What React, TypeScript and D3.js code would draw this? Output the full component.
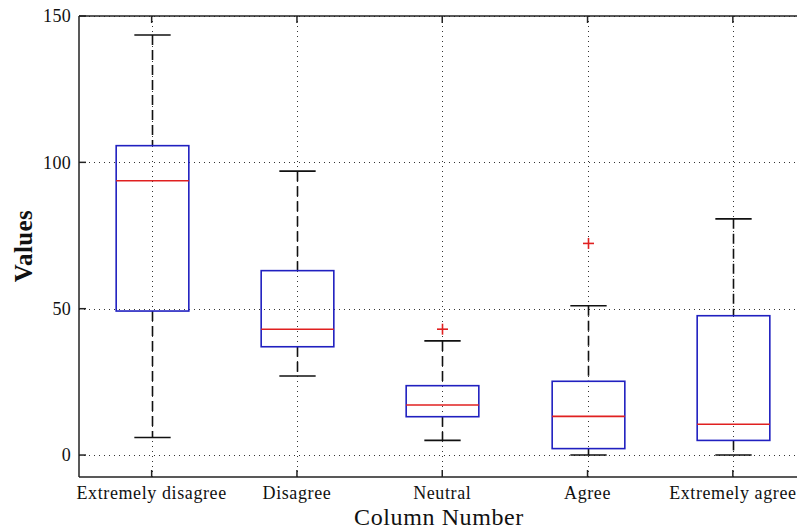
import React from "react";
import * as d3 from "d3";

const categories = ["Extremely disagree", "Disagree", "Neutral", "Agree", "Extremely agree"];
const whiskerLow = [6, 27, 5, 0, 0];
const q1 = [49.2, 37, 13.1, 2.2, 5];
const median = [93.7, 43, 17.1, 13.2, 10.5];
const q3 = [105.7, 63, 23.7, 25.2, 47.6];
const whiskerHigh = [143.5, 97, 39, 51, 80.7];
const outliers: number[][] = [[], [], [43], [72.3], []];
const yTicks = [0, 50, 100, 150];

const W = 797;
const H = 531;
const left = 79;
const top = 16;
const bottom = 477;

export default function App() {
  const x = d3.scaleLinear().domain([0.5, 5.5]).range([left, left + 5 * 145.3]);
  const y = d3.scaleLinear().domain([-7.5, 150]).range([bottom, top]);
  const boxHalf = x(1.25) - x(1);
  const capHalf = x(1.125) - x(1);
  const serif = "'Liberation Serif', 'DejaVu Serif', serif";
  const right = W;

  return (
    <svg
      width={W}
      height={H}
      style={{ position: "absolute", left: 0, top: 0, background: "#fff" }}
      fontFamily={serif}
    >
      <rect x={0} y={0} width={W} height={H} fill="#fff" />
      {/* grid */}
      <g stroke="#333" strokeWidth={1} strokeDasharray="1.2 3.8" shapeRendering="crispEdges">
        {yTicks.map((t) => (
          <line key={"gy" + t} x1={left} x2={right} y1={Math.round(y(t)) + 0.5} y2={Math.round(y(t)) + 0.5} />
        ))}
        {categories.map((c, i) => (
          <line key={"gx" + c} x1={Math.round(x(i + 1)) + 0.5} x2={Math.round(x(i + 1)) + 0.5} y1={top} y2={bottom} />
        ))}
      </g>

      {/* boxes */}
      {categories.map((c, i) => {
        const cx = Math.round(x(i + 1)) + 0.5;
        return (
          <g key={"b" + c}>
            <line x1={cx} x2={cx} y1={y(whiskerHigh[i])} y2={y(q3[i])} stroke="#111" strokeWidth={1.6} strokeDasharray="10 5" />
            <line x1={cx} x2={cx} y1={y(q1[i])} y2={y(whiskerLow[i])} stroke="#111" strokeWidth={1.6} strokeDasharray="10 5" />
            <line x1={cx - capHalf} x2={cx + capHalf} y1={y(whiskerHigh[i])} y2={y(whiskerHigh[i])} stroke="#111" strokeWidth={1.6} />
            <line x1={cx - capHalf} x2={cx + capHalf} y1={y(whiskerLow[i])} y2={y(whiskerLow[i])} stroke="#111" strokeWidth={1.6} />
            <rect
              x={cx - boxHalf}
              y={y(q3[i])}
              width={2 * boxHalf}
              height={y(q1[i]) - y(q3[i])}
              fill="none"
              stroke="#2020c0"
              strokeWidth={1.6}
            />
            <line x1={cx - boxHalf} x2={cx + boxHalf} y1={y(median[i])} y2={y(median[i])} stroke="#e02020" strokeWidth={1.6} />
            {outliers[i].map((o, k) => (
              <g key={k} stroke="#e02020" strokeWidth={1.6}>
                <line x1={cx - 5.5} x2={cx + 5.5} y1={y(o)} y2={y(o)} />
                <line x1={cx} x2={cx} y1={y(o) - 5.5} y2={y(o) + 5.5} />
              </g>
            ))}
          </g>
        );
      })}

      {/* axes frame */}
      <g stroke="#222" strokeWidth={1.5} fill="none">
        <line x1={left} x2={left} y1={top} y2={bottom} />
        <line x1={left} x2={right} y1={bottom} y2={bottom} />
        <line x1={left} x2={right} y1={top} y2={top} />
        {yTicks.map((t) => (
          <line key={"ty" + t} x1={left} x2={left + 7} y1={y(t)} y2={y(t)} />
        ))}
        {categories.map((c, i) => (
          <g key={"tx" + c}>
            <line x1={x(i + 1)} x2={x(i + 1)} y1={bottom} y2={bottom - 7} />
            <line x1={x(i + 1)} x2={x(i + 1)} y1={top} y2={top + 7} />
          </g>
        ))}
      </g>

      {/* tick labels */}
      <g fontSize={18} fill="#111">
        {yTicks.map((t) => (
          <text key={"ly" + t} x={left - 8} y={y(t)} dy="0.35em" textAnchor="end" letterSpacing={0.3}>
            {t}
          </text>
        ))}
        {categories.map((c, i) => (
          <text key={"lx" + c} x={x(i + 1)} y={499} textAnchor="middle" letterSpacing={0.6}>
            {c}
          </text>
        ))}
      </g>

      <text x={439} y={525} fontSize={24} textAnchor="middle" fill="#111" letterSpacing={0.6}>
        Column Number
      </text>
      <text
        transform={`translate(32, 246) rotate(-90)`}
        fontSize={25}
        fontWeight="bold"
        textAnchor="middle"
        fill="#111"
        letterSpacing={0.4}
      >
        Values
      </text>
    </svg>
  );
}
